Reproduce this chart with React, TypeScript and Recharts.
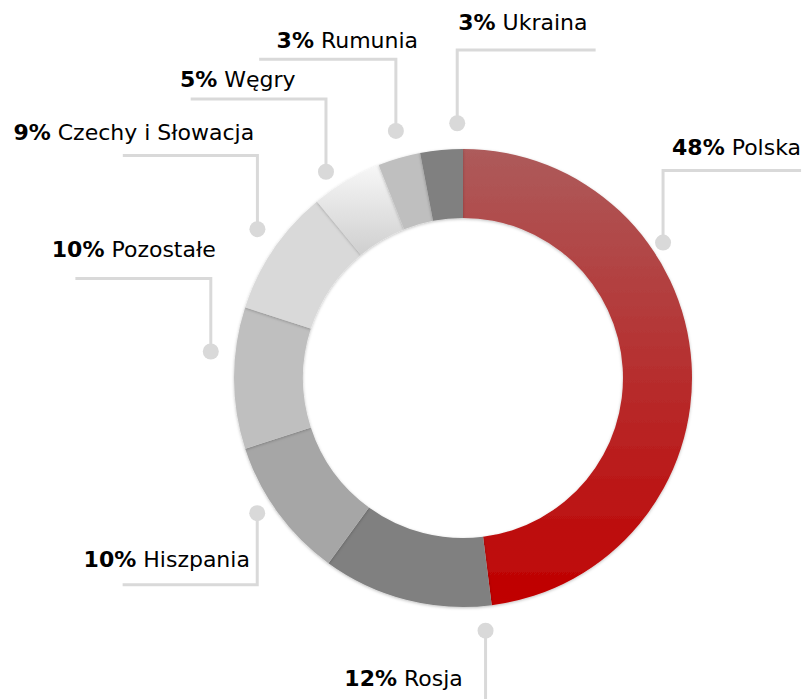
import React from "react"
import { PieChart, Pie, Cell } from "recharts"

// udział w sprzedaży wg rynku, zgodnie z ruchem wskazówek od góry
const countries = ["Polska", "Rosja", "Hiszpania", "Pozostałe", "Czechy i Słowacja", "Węgry", "Rumunia", "Ukraina"]
const shares = [48, 12, 10, 10, 9, 5, 3, 3]
const sliceFills = ["url(#gradRed)", "#808080", "#a6a6a6", "#bfbfbf", "#d9d9d9", "url(#gradLight)", "#bfbfbf", "#808080"]

const data = countries.map((name, i) => ({ name, value: shares[i] }))

// leader lines: dot (polar around the pie centre), elbow, arm, text offset from elbow
const leaders = [
  { angle: 34.1, r: 241.6, rise: -72, arm: 138, tx: 138, ty: -16, anchor: "end" },
  { angle: 275.1, r: 253.7, rise: 72, arm: 0, tx: -22.7, ty: -17, anchor: "end" },
  { angle: 213.3, r: 246.2, rise: 71.7, arm: -134.6, tx: -7.3, ty: -18, anchor: "end" },
  { angle: 174.0, r: 253.6, rise: -73, arm: -135.4, tx: -159, ty: -21.7, anchor: "start" },
  { angle: 144.1, r: 253.8, rise: -73.6, arm: -134.6, tx: -244, ty: -15.2, anchor: "start" },
  { angle: 123.6, r: 247.6, rise: -72.7, arm: -135.3, tx: -146, ty: -12, anchor: "start" },
  { angle: 105.2, r: 256, rise: -71.7, arm: -136.7, tx: -119.3, ty: -11.3, anchor: "start" },
  { angle: 91.3, r: 254.8, rise: -73.3, arm: 138.4, tx: 1, ty: -20, anchor: "start" },
]

const CX = 463
const CY = 378
const LINE = "#d9d9d9"

function renderLeader(props: any) {
  const { index } = props
  const cx = typeof props.cx === "number" ? props.cx : CX
  const cy = typeof props.cy === "number" ? props.cy : CY
  const l = leaders[index]
  const rad = (l.angle * Math.PI) / 180
  const x0 = cx + l.r * Math.cos(rad)
  const y0 = cy - l.r * Math.sin(rad)
  const y1 = y0 + l.rise
  const x2 = x0 + l.arm
  return (
    <g key={`leader-${index}`}>
      <polyline
        points={`${x0},${y0} ${x0},${y1} ${x2},${y1}`}
        fill="none"
        stroke={LINE}
        strokeWidth={3}
      />
      <circle cx={x0} cy={y0} r={8} fill={LINE} />
      <text
        x={x0 + l.tx}
        y={y1 + l.ty}
        textAnchor={l.anchor}
        fontFamily="'DejaVu Sans', Verdana, sans-serif"
        fontSize={22}
        fill="#000"
      >
        <tspan fontWeight="bold">{shares[index]}%</tspan>
        {" " + countries[index]}
      </text>
    </g>
  )
}

export default function App() {
  return (
    <div style={{ position: "fixed", left: 0, top: 0, background: "#fff" }}>
      <PieChart width={808} height={699} margin={{ top: 0, right: 0, bottom: 0, left: 0 }}>
        <defs>
          <linearGradient id="gradRed" x1="0" y1="0" x2="0" y2="1">
            <stop offset="0%" stopColor="#ad5b5b" />
            <stop offset="100%" stopColor="#c00000" />
          </linearGradient>
          <linearGradient id="gradLight" x1="0" y1="0" x2="0" y2="1">
            <stop offset="0%" stopColor="#f7f7f7" />
            <stop offset="100%" stopColor="#cfcfcf" />
          </linearGradient>
          <filter id="ringShadow" x="-20%" y="-20%" width="140%" height="140%">
            <feDropShadow dx="0" dy="1" stdDeviation="1.5" floodColor="#000" floodOpacity="0.25" />
          </filter>
        </defs>
        <Pie
          data={data}
          dataKey="value"
          nameKey="name"
          cx={CX}
          cy={CY}
          innerRadius={160}
          outerRadius={229}
          startAngle={90}
          endAngle={-270}
          stroke="none"
          label={renderLeader}
          labelLine={false}
          isAnimationActive={false}
        >
          {data.map((d, i) => (
            <Cell key={d.name} fill={sliceFills[i]} filter="url(#ringShadow)" />
          ))}
        </Pie>
      </PieChart>
    </div>
  )
}
